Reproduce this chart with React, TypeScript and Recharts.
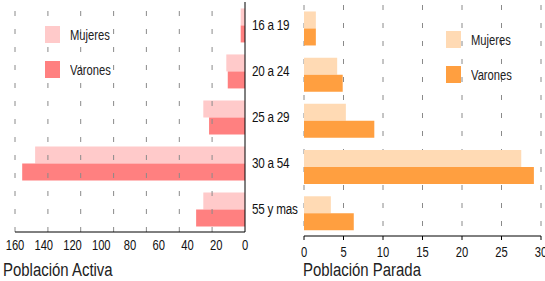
import { BarChart, Bar, XAxis, YAxis, CartesianGrid, ReferenceLine } from "recharts";

const FONT = '"Liberation Sans", Arial, sans-serif';
const NARROW = 0.8;

const categories = ["16 a 19", "20 a 24", "25 a 29", "30 a 54", "55 y mas"];
const activaMujeres = [3, 13, 29, 146, 29];
const activaVarones = [3, 12, 25, 155, 34];
const paradaMujeres = [1.5, 4.2, 5.3, 27.5, 3.4];
const paradaVarones = [1.5, 4.9, 8.9, 29.1, 6.3];

const activaTicks = [0, 20, 40, 60, 80, 100, 120, 140, 160];
const activaGrid = [22.9, 45.7, 68.6, 91.4, 114.3, 137.1, 160];
const paradaTicks = [0, 5, 10, 15, 20, 25, 30];

const activaData = categories.map((c, i) => ({ cat: c, m: activaMujeres[i], v: activaVarones[i] }));
const paradaData = categories.map((c, i) => ({ cat: c, m: paradaMujeres[i], v: paradaVarones[i] }));

const COLORS = {
  activaM: "#ffcaca",
  activaV: "#ff8080",
  paradaM: "#ffdab4",
  paradaV: "#ff9f40",
};

function NumTick({ x, y, payload }: any) {
  return (
    <text
      transform={`translate(${x},${y}) scale(${NARROW},1)`}
      textAnchor="middle"
      dy="0.71em"
      fontFamily={FONT}
      fontSize={14}
      fill="#111"
    >
      {payload.value}
    </text>
  );
}

function CatTick({ x, y, payload }: any) {
  return (
    <text
      transform={`translate(${x + 7},${y}) scale(0.78,1)`}
      textAnchor="start"
      dominantBaseline="central"
      fontFamily={FONT}
      fontSize={15}
      fill="#111"
      letterSpacing={-0.3}
    >
      {payload.value}
    </text>
  );
}

function LegendBox({ left, top, colorM, colorV }: { left: number; top: number; colorM: string; colorV: string }) {
  const row = (color: string, label: string, dy: number) => (
    <div style={{ position: "absolute", left, top: top + dy, display: "flex", alignItems: "center", height: 17 }}>
      <span style={{ width: 15, height: 17, background: color, display: "inline-block" }} />
      <span
        style={{
          marginLeft: 10,
          fontFamily: FONT,
          fontSize: 14,
          color: "#222",
          display: "inline-block",
          transform: `scaleX(${NARROW})`,
          transformOrigin: "left center",
          whiteSpace: "nowrap",
        }}
      >
        {label}
      </span>
    </div>
  );
  return (
    <>
      {row(colorM, "Mujeres", 0)}
      {row(colorV, "Varones", 35)}
    </>
  );
}

const titleStyle = {
  position: "absolute" as const,
  top: 260,
  fontFamily: FONT,
  fontSize: 18,
  color: "#222",
  whiteSpace: "nowrap" as const,
  transform: "scaleX(0.83)",
  transformOrigin: "left top",
};

export default function App() {
  const grid = "#8a8a8a";
  return (
    <div style={{ position: "absolute", left: 0, top: 0, width: 545, height: 281, background: "#fff", overflow: "hidden" }}>
      <div style={{ position: "absolute", left: 300, top: 0 }}>
        <BarChart
          width={245}
          height={264}
          data={paradaData}
          layout="vertical"
          margin={{ top: 5, right: 4, bottom: 0, left: 4 }}
          barCategoryGap="14%"
          barGap={0}
        >
          <CartesianGrid horizontal={false} stroke={grid} strokeDasharray="5 13" />
          <XAxis
            type="number"
            domain={[0, 30]}
            ticks={paradaTicks}
            height={28}
            axisLine={{ stroke: "#000" }}
            tickLine={{ stroke: "#000" }}
            tickSize={4}
            tickMargin={7}
            tick={<NumTick />}
            interval={0}
          />
          <YAxis type="category" dataKey="cat" width={0} axisLine={{ stroke: "#000" }} tick={false} tickLine={false} />
          <Bar dataKey="m" fill={COLORS.paradaM} isAnimationActive={false} />
          <Bar dataKey="v" fill={COLORS.paradaV} isAnimationActive={false} />
        </BarChart>
      </div>
      <div style={{ position: "absolute", left: 0, top: 0 }}>
        <BarChart
          width={304}
          height={260}
          data={activaData}
          layout="vertical"
          margin={{ top: 2, right: 0, bottom: 0, left: 15 }}
          barCategoryGap="14%"
          barGap={0}
        >
          <XAxis
            type="number"
            domain={[0, 160]}
            ticks={activaTicks}
            reversed
            height={28}
            axisLine={{ stroke: "#000" }}
            tickLine={false}
            tickSize={4}
            tickMargin={4}
            tick={<NumTick />}
            interval={0}
          />
          <YAxis
            type="category"
            dataKey="cat"
            orientation="right"
            width={59}
            axisLine={{ stroke: "#000" }}
            tickLine={false}
            tickSize={0}
            tickMargin={0}
            tick={<CatTick />}
          />
          {activaGrid.map((g) => (
            <ReferenceLine key={g} x={g} stroke={grid} strokeDasharray="5 13" />
          ))}
          <Bar dataKey="m" fill={COLORS.activaM} isAnimationActive={false} />
          <Bar dataKey="v" fill={COLORS.activaV} isAnimationActive={false} />
        </BarChart>
      </div>
      <LegendBox left={45} top={26} colorM={COLORS.activaM} colorV={COLORS.activaV} />
      <LegendBox left={446} top={31} colorM={COLORS.paradaM} colorV={COLORS.paradaV} />
      <div style={{ ...titleStyle, left: 3 }}>Población Activa</div>
      <div style={{ ...titleStyle, left: 303 }}>Población Parada</div>
    </div>
  );
}
